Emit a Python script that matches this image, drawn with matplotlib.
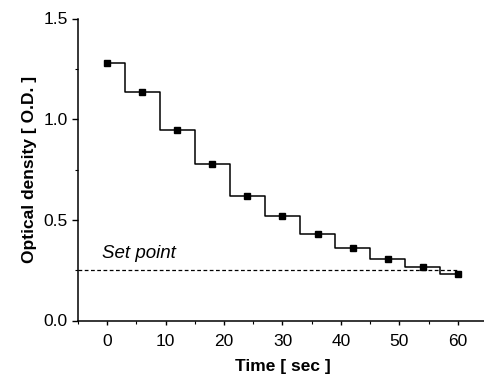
import matplotlib
matplotlib.use("Agg")
import matplotlib.pyplot as plt
from matplotlib.ticker import MultipleLocator, FormatStrFormatter

plt.rcParams['font.family'] = ['Liberation Sans', 'DejaVu Sans']

time_s = [0, 6, 12, 18, 24, 30, 36, 42, 48, 54, 60]
optical_density = [1.277, 1.134, 0.947, 0.777, 0.619, 0.518, 0.430, 0.359, 0.305, 0.264, 0.229]
set_point = 0.25
set_point_label = "Set point"

fig = plt.figure(figsize=(4.85, 3.83), dpi=100)
ax = fig.add_axes([78/485, (383-320.5)/383, 409/485, (320.5-18.5)/383])

ax.step(time_s, optical_density, where='mid', color='black', lw=1.1)
ax.plot(time_s, optical_density, 's', color='black', ms=4.8, ls='none')
ax.hlines(set_point, -5, 60, colors='black', linestyles=(0, (3, 2)), lw=0.9)
ax.text(-0.9, 0.31, set_point_label, fontsize=13.5, style='italic')

ax.set_xlim(-5, 65)
ax.set_ylim(0, 1.5)
ax.xaxis.set_major_locator(MultipleLocator(10))
ax.xaxis.set_minor_locator(MultipleLocator(5))
ax.yaxis.set_major_locator(MultipleLocator(0.5))
ax.yaxis.set_minor_locator(MultipleLocator(0.25))
ax.yaxis.set_major_formatter(FormatStrFormatter('%.1f'))
for s in ['top', 'right']:
    ax.spines[s].set_visible(False)
for s in ['left', 'bottom']:
    ax.spines[s].set_linewidth(1.1)
ax.tick_params(axis='x', which='major', length=3, width=1.0, labelsize=12.5, direction='out', pad=7)
ax.tick_params(axis='y', which='major', length=4.3, width=1.0, labelsize=12.5, direction='out', pad=3)
ax.tick_params(which='minor', length=2.2, width=0.8, direction='out')

ax.set_xlabel('Time [ sec ]', fontsize=12.5, fontweight='bold', labelpad=7)
ax.set_ylabel('Optical density [ O.D. ]', fontsize=12.5, fontweight='bold', labelpad=5)

fig.savefig('out.png', dpi=100)
